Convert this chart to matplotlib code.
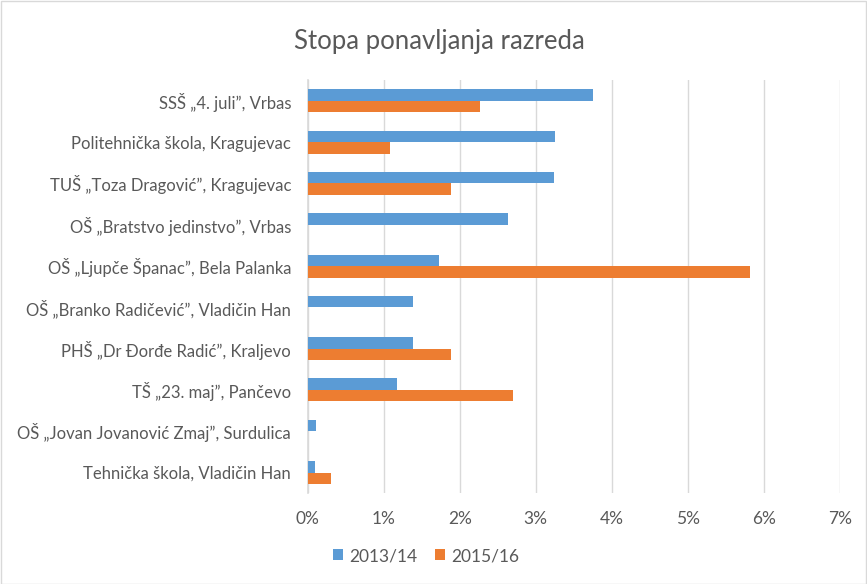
import matplotlib
matplotlib.use("Agg")
import matplotlib.pyplot as plt
from matplotlib.patches import Rectangle
from matplotlib.ticker import FuncFormatter, MultipleLocator
import numpy as np

categories = [
    "SSŠ „4. juli”, Vrbas",
    "Politehnička škola, Kragujevac",
    "TUŠ „Toza Dragović”, Kragujevac",
    "OŠ „Bratstvo jedinstvo”, Vrbas",
    "OŠ „Ljupče Španac”, Bela Palanka",
    "OŠ „Branko Radičević”, Vladičin Han",
    "PHŠ „Dr Đorđe Radić”, Kraljevo",
    "TŠ „23. maj”, Pančevo",
    "OŠ „Jovan Jovanović Zmaj”, Surdulica",
    "Tehnička škola, Vladičin Han",
]
series_2013 = [3.76, 3.26, 3.24, 2.63, 1.73, 1.39, 1.38, 1.17, 0.11, 0.10]
series_2015 = [2.27, 1.08, 1.89, 0.0, 5.82, 0.0, 1.88, 2.70, 0.0, 0.30]
series_names = ["2013/14", "2015/16"]
title = "Stopa ponavljanja razreda"

plt.rcParams['font.family'] = ['Lato', 'DejaVu Sans']
text_color = "#595959"
blue = "#5B9BD5"
orange = "#ED7D31"

W, H = 867, 584
fig = plt.figure(figsize=(W / 100, H / 100), dpi=100)
left, right = 307.7, 839.7
top, bottom = 80.2, 493.2
ax = fig.add_axes([left / W, 1 - bottom / H, (right - left) / W, (bottom - top) / H])

y = np.arange(len(categories))
bh = 0.278
ax.barh(y - bh / 2, series_2013, height=bh, color=blue, label=series_names[0],
        edgecolor="none", zorder=3)
ax.barh(y + bh / 2, series_2015, height=bh, color=orange, label=series_names[1],
        edgecolor="none", zorder=3)

ax.set_xlim(0, 7)
ax.set_ylim(len(categories) - 0.5, -0.5)
ax.xaxis.set_major_locator(MultipleLocator(1))
ax.xaxis.set_major_formatter(FuncFormatter(lambda v, p: f"{int(round(v))}%"))
ax.set_yticks(y)
ax.set_yticklabels(categories)
ax.grid(axis="x", color="#D9D9D9", linewidth=1.0, zorder=0)
ax.set_axisbelow(True)
for s in ["top", "right", "bottom"]:
    ax.spines[s].set_visible(False)
ax.spines["left"].set_color("#D9D9D9")
ax.spines["left"].set_linewidth(1.2)
ax.tick_params(axis="both", length=0, labelsize=12, colors=text_color)
ax.tick_params(axis="x", labelsize=12.5)
ax.tick_params(axis="y", pad=12)
ax.tick_params(axis="x", pad=13)

fig.text(439 / W, 1 - 42 / H, title, ha="center", va="center", fontsize=18.5, color=text_color)

handles, labels = ax.get_legend_handles_labels()
leg = fig.legend(handles, labels, loc="center", bbox_to_anchor=(426 / W, 1 - 556 / H),
                 ncol=2, frameon=False, fontsize=12.5, handlelength=0.6, handleheight=0.6,
                 handletextpad=0.35, columnspacing=1.0)
for t in leg.get_texts():
    t.set_color(text_color)

fig.patches.append(Rectangle((0.5 / W, 0.5 / H), 1 - 1.5 / W, 1 - 1.5 / H,
                             transform=fig.transFigure, fill=False,
                             edgecolor="#D9D9D9", linewidth=1.0))

fig.savefig("out.png", dpi=100)
